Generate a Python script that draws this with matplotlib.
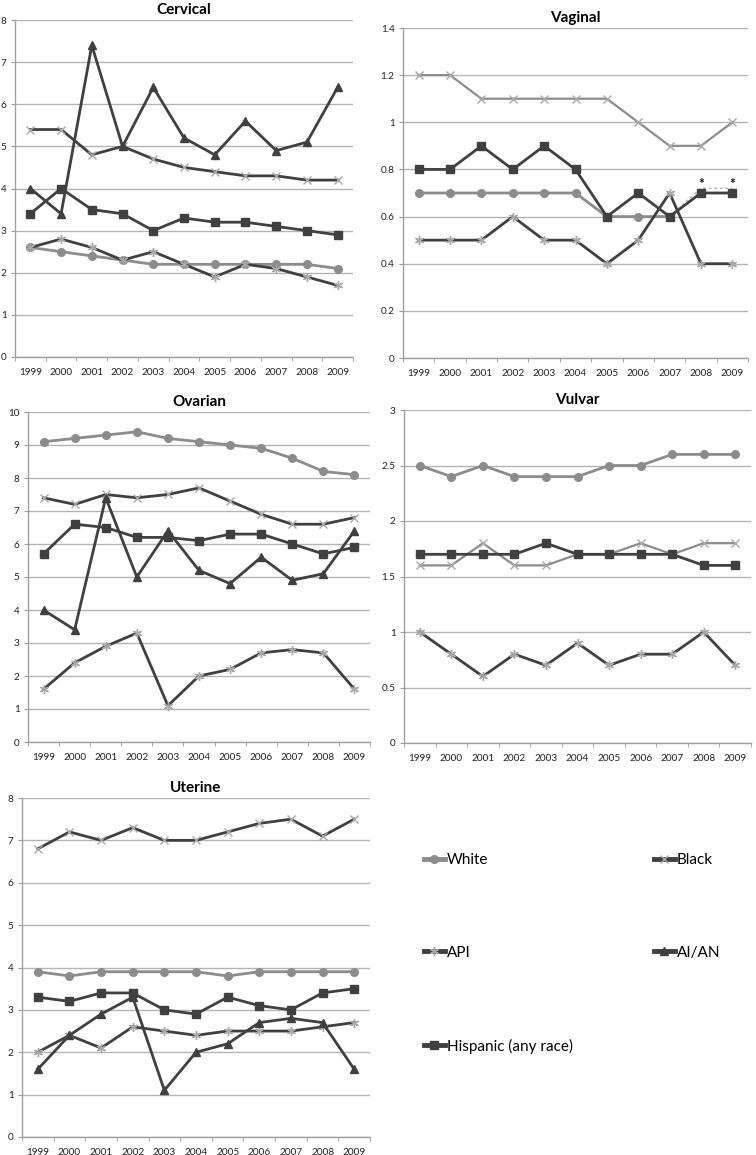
import matplotlib

matplotlib.use("Agg")
import matplotlib.pyplot as plt
import numpy as np
from matplotlib.lines import Line2D
from matplotlib.ticker import FuncFormatter, MultipleLocator

plt.rcParams["font.family"] = ["Lato", "DejaVu Sans"]

YEARS = [str(y) for y in range(1999, 2010)]
RACES = ["White", "Black", "API", "AI/AN", "Hispanic (any race)"]

# values, rate per 100,000
cervical_white = [2.6, 2.5, 2.4, 2.3, 2.2, 2.2, 2.2, 2.2, 2.2, 2.2, 2.1]
cervical_black = [5.4, 5.4, 4.8, 5.0, 4.7, 4.5, 4.4, 4.3, 4.3, 4.2, 4.2]
cervical_api = [2.6, 2.8, 2.6, 2.3, 2.5, 2.2, 1.9, 2.2, 2.1, 1.9, 1.7]
cervical_aian = [4.0, 3.4, 7.4, 5.0, 6.4, 5.2, 4.8, 5.6, 4.9, 5.1, 6.4]
cervical_hisp = [3.4, 4.0, 3.5, 3.4, 3.0, 3.3, 3.2, 3.2, 3.1, 3.0, 2.9]

vaginal_white = [0.7, 0.7, 0.7, 0.7, 0.7, 0.7, 0.6, 0.6, 0.6, np.nan, np.nan]
vaginal_white_suppressed = [np.nan] * 8 + [0.6, 0.72, 0.72]
vaginal_black = [1.2, 1.2, 1.1, 1.1, 1.1, 1.1, 1.1, 1.0, 0.9, 0.9, 1.0]
vaginal_api = [0.5, 0.5, 0.5, 0.6, 0.5, 0.5, 0.4, 0.5, 0.7, 0.4, 0.4]
vaginal_hisp = [0.8, 0.8, 0.9, 0.8, 0.9, 0.8, 0.6, 0.7, 0.6, 0.7, 0.7]

ovarian_white = [9.1, 9.2, 9.3, 9.4, 9.2, 9.1, 9.0, 8.9, 8.6, 8.2, 8.1]
ovarian_black = [7.4, 7.2, 7.5, 7.4, 7.5, 7.7, 7.3, 6.9, 6.6, 6.6, 6.8]
ovarian_api = [1.6, 2.4, 2.9, 3.3, 1.1, 2.0, 2.2, 2.7, 2.8, 2.7, 1.6]
ovarian_aian = [4.0, 3.4, 7.4, 5.0, 6.4, 5.2, 4.8, 5.6, 4.9, 5.1, 6.4]
ovarian_hisp = [5.7, 6.6, 6.5, 6.2, 6.2, 6.1, 6.3, 6.3, 6.0, 5.7, 5.9]

vulvar_white = [2.5, 2.4, 2.5, 2.4, 2.4, 2.4, 2.5, 2.5, 2.6, 2.6, 2.6]
vulvar_black = [1.6, 1.6, 1.8, 1.6, 1.6, 1.7, 1.7, 1.8, 1.7, 1.8, 1.8]
vulvar_api = [1.0, 0.8, 0.6, 0.8, 0.7, 0.9, 0.7, 0.8, 0.8, 1.0, 0.7]
vulvar_hisp = [1.7, 1.7, 1.7, 1.7, 1.8, 1.7, 1.7, 1.7, 1.7, 1.6, 1.6]

uterine_white = [3.9, 3.8, 3.9, 3.9, 3.9, 3.9, 3.8, 3.9, 3.9, 3.9, 3.9]
uterine_black = [6.8, 7.2, 7.0, 7.3, 7.0, 7.0, 7.2, 7.4, 7.5, 7.1, 7.5]
uterine_api = [2.0, 2.4, 2.1, 2.6, 2.5, 2.4, 2.5, 2.5, 2.5, 2.6, 2.7]
uterine_aian = [1.6, 2.4, 2.9, 3.3, 1.1, 2.0, 2.2, 2.7, 2.8, 2.7, 1.6]
uterine_hisp = [3.3, 3.2, 3.4, 3.4, 3.0, 2.9, 3.3, 3.1, 3.0, 3.4, 3.5]

DARK = "#404040"
GRAY = "#8c8c8c"
MARK = "#a8a8a8"
GRID = "#b4b4b4"

STYLES = {
    "White": dict(color=GRAY, marker="o", markersize=5.5, mfc=GRAY, mec=GRAY),
    "Black": dict(color=DARK, marker="x", markersize=5.5, mec=MARK, markeredgewidth=1.0),
    "API": dict(color=DARK, marker=(6, 2, 0), markersize=6.5, mec=MARK, markeredgewidth=1.0),
    "AI/AN": dict(color=DARK, marker="^", markersize=5.5, mfc=DARK, mec=DARK),
    "Hispanic (any race)": dict(color=DARK, marker="s", markersize=5.5, mfc=DARK, mec=DARK),
}

W, H = 756, 1155


def px_axes(fig, left, top, right, bottom):
    return fig.add_axes([left / W, 1 - bottom / H, (right - left) / W, (bottom - top) / H])


def style_axes(ax, title, ymax, ystep):
    x = np.arange(len(YEARS))
    ax.set_xlim(-0.5, len(YEARS) - 0.5)
    ax.set_ylim(0, ymax)
    ax.set_xticks(x)
    ax.set_xticklabels(YEARS)
    ax.set_xticks(np.arange(-0.5, len(YEARS)), minor=True)
    ax.tick_params(axis="x", which="major", length=0, labelsize=7.2, pad=8, colors="#222222")
    ax.tick_params(axis="x", which="minor", length=3, color="#999999", direction="out")
    ax.yaxis.set_major_locator(MultipleLocator(ystep))
    ax.yaxis.set_major_formatter(FuncFormatter(lambda v, _: f"{v:g}"))
    ax.tick_params(axis="y", length=3, color="#999999", labelsize=7.2, pad=3, labelcolor="#222222")
    ax.grid(axis="y", color=GRID, linewidth=1.0)
    ax.set_axisbelow(True)
    for side in ("top", "right"):
        ax.spines[side].set_visible(False)
    for side in ("left", "bottom"):
        ax.spines[side].set_color("#a0a0a0")
        ax.spines[side].set_linewidth(1.0)
    ax.set_title(title, fontsize=11, fontweight="bold", pad=4)


def draw(ax, series, overrides=None):
    overrides = overrides or {}
    x = np.arange(len(YEARS))
    for race, values in series:
        kw = dict(linewidth=2.0)
        kw.update(STYLES[race])
        kw.update(overrides.get(race, {}))
        ax.plot(x, values, label=race, **kw)


fig = plt.figure(figsize=(W / 100, H / 100), dpi=100)

ax = px_axes(fig, 15, 20, 353, 357)
style_axes(ax, "Cervical", 8, 1)
draw(ax, [("White", cervical_white), ("Black", cervical_black), ("API", cervical_api),
          ("AI/AN", cervical_aian), ("Hispanic (any race)", cervical_hisp)])

ax = px_axes(fig, 403, 28, 748, 358)
style_axes(ax, "Vaginal", 1.4, 0.2)
x = np.arange(len(YEARS))
ax.plot(x, vaginal_white_suppressed, color="#b0b0b0", linestyle=(0, (2, 2)), linewidth=1.0)
draw(ax, [("Black", vaginal_black), ("White", vaginal_white), ("API", vaginal_api),
          ("Hispanic (any race)", vaginal_hisp)],
     overrides={"Black": dict(color=GRAY, linewidth=1.6)})
for xi, yi in zip(x, vaginal_white_suppressed):
    if xi >= 9:
        ax.annotate("*", (xi, yi), xytext=(0, -1), textcoords="offset points",
                    ha="center", va="bottom", fontsize=10, fontweight="bold", color="#111111")

ax = px_axes(fig, 28, 412, 370, 742)
style_axes(ax, "Ovarian", 10, 1)
draw(ax, [("White", ovarian_white), ("Black", ovarian_black), ("API", ovarian_api),
          ("AI/AN", ovarian_aian), ("Hispanic (any race)", ovarian_hisp)])

ax = px_axes(fig, 404, 410, 751, 743)
style_axes(ax, "Vulvar", 3, 0.5)
draw(ax, [("White", vulvar_white), ("Black", vulvar_black), ("API", vulvar_api),
          ("Hispanic (any race)", vulvar_hisp)],
     overrides={"Black": dict(color=GRAY, linewidth=1.6)})

ax = px_axes(fig, 22, 798, 370, 1137)
style_axes(ax, "Uterine", 8, 1)
draw(ax, [("White", uterine_white), ("Black", uterine_black), ("API", uterine_api),
          ("AI/AN", uterine_aian), ("Hispanic (any race)", uterine_hisp)])

# legend: column-major fill, so order puts White/API/Hispanic in the first column
order = ["White", "API", "Hispanic (any race)", "Black", "AI/AN"]
handles = [Line2D([], [], linewidth=3.5, **STYLES[r]) for r in order]
fig.legend(
    handles,
    order,
    ncol=2,
    loc="upper left",
    bbox_to_anchor=(418 / W, 1 - 847 / H),
    frameon=False,
    fontsize=11,
    handlelength=1.35,
    handletextpad=0.15,
    labelspacing=5.15,
    columnspacing=5.3,
    borderaxespad=0,
)

fig.savefig("out.png", dpi=100)
